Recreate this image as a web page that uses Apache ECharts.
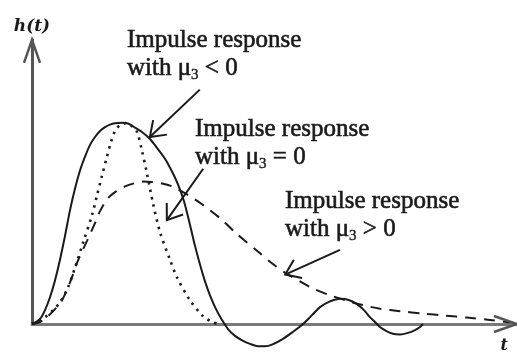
<!DOCTYPE html>
<html>
<head>
<meta charset="utf-8">
<script src="https://cdn.jsdelivr.net/npm/echarts@6/dist/echarts.min.js"></script>
<style>
  html, body { margin: 0; padding: 0; background: #ffffff; }
  #chart { width: 517px; height: 354px; }
</style>
</head>
<body>
<div id="chart"></div>
<script>
// Impulse responses h(t) for three values of the third moment mu3.
// Each entry is [t, h(t)], with h normalised to the peak of the mu3 < 0 case.
const responseNegSkew = [
  [0, 0], [0.165, 0.025], [0.268, 0.069], [0.371, 0.133], [0.474, 0.217], [0.577, 0.320],
  [0.680, 0.438], [0.784, 0.567], [0.887, 0.675], [0.990, 0.764], [1.093, 0.833],
  [1.196, 0.892], [1.299, 0.931], [1.402, 0.961], [1.505, 0.980], [1.608, 0.993],
  [1.711, 1.0], [1.856, 1.002], [1.979, 0.998], [2.124, 0.978], [2.268, 0.956],
  [2.433, 0.921], [2.577, 0.877], [2.742, 0.823], [2.887, 0.759], [3.010, 0.695],
  [3.134, 0.611], [3.258, 0.493], [3.361, 0.389], [3.464, 0.296], [3.567, 0.212],
  [3.670, 0.143], [3.794, 0.074], [3.918, 0.020], [4.041, -0.025], [4.186, -0.059],
  [4.351, -0.084], [4.495, -0.099], [4.660, -0.111], [4.804, -0.111], [4.948, -0.103],
  [5.175, -0.074], [5.381, -0.039], [5.588, 0], [5.773, 0.044], [5.938, 0.084],
  [6.144, 0.113], [6.351, 0.126], [6.515, 0.121], [6.701, 0.099], [6.845, 0.069],
  [6.969, 0.034], [7.072, 0.010], [7.175, -0.015], [7.299, -0.034], [7.443, -0.049],
  [7.588, -0.052], [7.753, -0.044], [7.897, -0.030], [8.000, -0.015], [8.062, 0]
];
const responseZeroSkew = [
  [0, 0], [0.268, 0.034], [0.433, 0.069], [0.577, 0.108], [0.742, 0.182], [0.887, 0.281],
  [1.052, 0.404], [1.237, 0.542], [1.340, 0.640], [1.443, 0.739], [1.546, 0.833],
  [1.629, 0.906], [1.711, 0.961], [1.814, 0.990], [1.938, 1.0], [2.062, 0.985],
  [2.165, 0.956], [2.268, 0.862], [2.371, 0.749], [2.495, 0.601], [2.639, 0.458],
  [2.845, 0.320], [2.990, 0.232], [3.258, 0.118], [3.526, 0.039], [3.711, 0.010], [3.835, 0]
];
const responsePosSkew = [
  [0, 0], [0.165, 0.010], [0.309, 0.034], [0.474, 0.074], [0.619, 0.118], [0.784, 0.207],
  [0.948, 0.315], [1.134, 0.414], [1.299, 0.502], [1.402, 0.562], [1.567, 0.626],
  [1.732, 0.660], [1.918, 0.685], [2.103, 0.700], [2.289, 0.709], [2.474, 0.707],
  [2.680, 0.700], [2.887, 0.685], [3.196, 0.645], [3.505, 0.596], [3.876, 0.527],
  [4.227, 0.448], [4.639, 0.365], [4.907, 0.310], [5.216, 0.256], [5.526, 0.212],
  [5.794, 0.177], [6.144, 0.143], [6.495, 0.116], [6.825, 0.094], [7.175, 0.076],
  [7.588, 0.064], [8.062, 0.052], [8.515, 0.042], [8.969, 0.032], [9.443, 0.020], [9.856, 0.007]
];

// Callouts: relation sign of mu3, text block centre [t, h],
// and pointer arrow [tFrom, hFrom, tTo, hTo].
const calloutRelations = ['<', '=', '>'];
const calloutCentres = [[1.959, 1.343], [3.361, 0.900], [5.216, 0.540]];
const calloutArrows = [
  [3.46, 1.167, 2.43, 0.931],
  [3.53, 0.773, 2.78, 0.517],
  [6.35, 0.369, 5.22, 0.246]
];

// Axis extents and the arrow tips at their ends.
const tRange = [0, 10];
const hRange = [0, 1.415];
const axisArrows = [
  [0, 0, 0, 1.415],
  [0, 0, 10, 0]
];

const ink = '#1a1a1a';
const textFont = '"Liberation Serif", "Times New Roman", serif';
const labelFont = '"DejaVu Serif", "Liberation Serif", serif';

function makeArrow(headLen, headHalf, drawShaft, color, width) {
  return function (params, api) {
    const p1 = api.coord([api.value(0), api.value(1)]);
    const p2 = api.coord([api.value(2), api.value(3)]);
    const dx = p2[0] - p1[0], dy = p2[1] - p1[1];
    const len = Math.hypot(dx, dy);
    const ux = dx / len, uy = dy / len;
    const nx = -uy, ny = ux;
    const bx = p2[0] - ux * headLen, by = p2[1] - uy * headLen;
    const children = [{
      type: 'polyline',
      shape: { points: [[bx + nx * headHalf, by + ny * headHalf], [p2[0], p2[1]], [bx - nx * headHalf, by - ny * headHalf]] },
      style: { stroke: color, lineWidth: width, fill: null, lineJoin: 'miter' }
    }];
    if (drawShaft) {
      children.push({
        type: 'line',
        shape: { x1: p1[0], y1: p1[1], x2: p2[0], y2: p2[1] },
        style: { stroke: color, lineWidth: width }
      });
    }
    return { type: 'group', children: children };
  };
}

const chart = echarts.init(document.getElementById('chart'), null, { renderer: 'canvas' });

chart.setOption({
  animation: false,
  backgroundColor: '#ffffff',
  grid: { left: 32, right: 0, top: 39.8, bottom: 27, containLabel: false },
  xAxis: {
    type: 'value', min: tRange[0], max: tRange[1],
    name: 't', nameLocation: 'end', nameGap: 0,
    nameTextStyle: {
      fontFamily: labelFont, fontStyle: 'italic', fontWeight: 'bold', fontSize: 16, color: ink,
      align: 'right', verticalAlign: 'top', padding: [14, 9, 0, 0]
    },
    axisLine: { show: true, onZero: true, lineStyle: { color: '#7a7a7a', width: 3 } },
    axisTick: { show: false }, axisLabel: { show: false }, splitLine: { show: false }
  },
  yAxis: {
    type: 'value', min: hRange[0], max: hRange[1],
    name: 'h(t)', nameLocation: 'end', nameGap: 5,
    nameTextStyle: {
      fontFamily: labelFont, fontStyle: 'italic', fontWeight: 'bold', fontSize: 17, color: ink,
      align: 'center'
    },
    axisLine: { show: true, lineStyle: { color: '#555555', width: 3 } },
    axisTick: { show: false }, axisLabel: { show: false }, splitLine: { show: false }
  },
  series: [
    {
      name: 'mu3 < 0', type: 'line', data: responseNegSkew, smooth: 0.3, clip: false,
      showSymbol: false, lineStyle: { color: ink, width: 2 }, z: 3
    },
    {
      name: 'mu3 = 0', type: 'line', data: responseZeroSkew, smooth: 0.3, clip: false,
      showSymbol: false, lineStyle: { color: ink, width: 2.6, type: [2.4, 5.2], cap: 'butt' }, z: 3
    },
    {
      name: 'mu3 > 0', type: 'line', data: responsePosSkew, smooth: 0.3, clip: false,
      showSymbol: false, lineStyle: { color: ink, width: 2, type: [11, 8] }, z: 3
    },
    {
      name: 'pointers', type: 'custom', clip: false, z: 4,
      encode: { x: [0, 2], y: [1, 3] },
      data: calloutArrows,
      renderItem: makeArrow(14, 10, true, ink, 2)
    },
    {
      name: 'axis heads', type: 'custom', clip: false, z: 4,
      encode: { x: [0, 2], y: [1, 3] },
      data: axisArrows,
      renderItem: makeArrow(23, 8, false, '#555555', 2.5)
    },
    {
      name: 'callouts', type: 'custom', clip: false, z: 5,
      encode: { x: 0, y: 1 },
      data: calloutCentres,
      renderItem: function (params, api) {
        const p = api.coord([api.value(0), api.value(1)]);
        const rel = calloutRelations[params.dataIndex];
        const body = { fontFamily: textFont, fontSize: 25, lineHeight: 28, fill: ink, stroke: ink, lineWidth: 0.6 };
        return {
          type: 'text',
          x: p[0], y: p[1],
          style: {
            text: '{t|Impulse response}\n{t|with }{t|μ}{sub|3}{t| ' + rel + ' 0}',
            align: 'left', verticalAlign: 'middle',
            fill: ink,
            rich: {
              t: body,
              sub: { fontFamily: textFont, fontSize: 15, lineHeight: 28, fill: ink, stroke: ink, lineWidth: 0.4, verticalAlign: 'bottom' }
            }
          }
        };
      }
    }
  ]
});
</script>
</body>
</html>
